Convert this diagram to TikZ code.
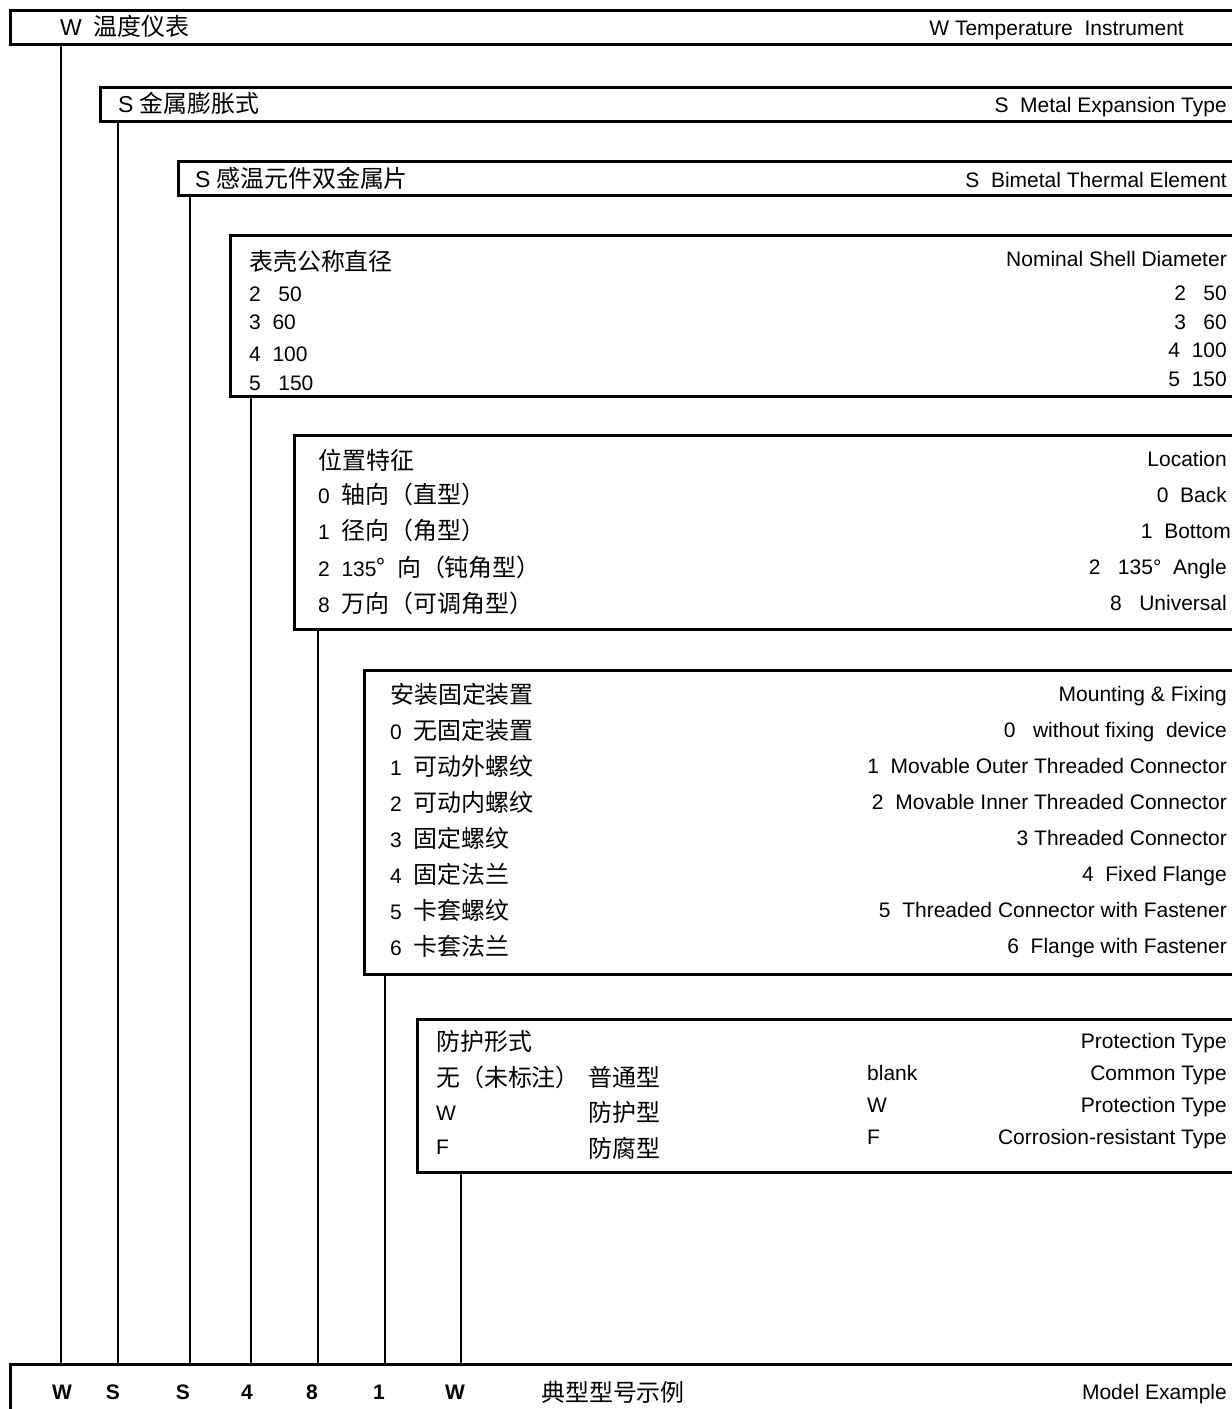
\documentclass[tikz,border=0pt]{standalone}
\usepackage{fontspec}
\setmainfont{Liberation Sans}
\newfontfamily\cjk{Noto Sans CJK SC}[Scale=1.14]
\newcommand{\hdrlat}[1]{{\fontsize{23}{27}\selectfont #1}}
\begin{document}
\begin{tikzpicture}[x=1pt,y=-1pt,
  box/.style={line width=3pt},
  lead/.style={line width=1.2pt},
  every node/.style={inner sep=0pt, font=\fontsize{21}{25}\selectfont},
  lt/.style={anchor=base west, yshift=-8pt},
  rt/.style={anchor=base east, yshift=-8pt},
  code/.style={anchor=base, yshift=-8pt, font=\fontsize{21}{25}\selectfont\bfseries}]
\useasboundingbox (0,0) rectangle (1232,1409);
\clip (0,0) rectangle (1232,1409);
% boxes (open to the right, cut by the page edge)
\draw[box] (1245,10) -- (10,10) -- (10,44) -- (1245,44);
\draw[box] (1245,87) -- (100,87) -- (100,121) -- (1245,121);
\draw[box] (1245,161) -- (178,161) -- (178,195) -- (1245,195);
\draw[box] (1245,235) -- (230,235) -- (230,396) -- (1245,396);
\draw[box] (1245,435) -- (294,435) -- (294,629) -- (1245,629);
\draw[box] (1245,670) -- (364,670) -- (364,974) -- (1245,974);
\draw[box] (1245,1019) -- (417,1019) -- (417,1172) -- (1245,1172);
\draw[box] (1245,1364) -- (10,1364) -- (10,1420);
% box 1
\node[lt] (t1) at (60,27) {\hdrlat{W}\ \ \cjk 温度仪表};
\node[rt] (e1) at (1184,27) {W Temperature\ \ Instrument};
% box 2
\node[lt] (t2) at (118,104) {\hdrlat{S} \cjk 金属膨胀式};
\node[rt] (e2) at (1227,104) {S\ \ Metal Expansion Type};
% box 3
\node[lt] (t3) at (195,179) {\hdrlat{S} \cjk 感温元件双金属片};
\node[rt] (e3) at (1227,179) {S\ \ Bimetal Thermal Element};
% box 4
\node[lt] (t4) at (249,262) {\cjk 表壳公称直径};
\node[lt] (t4a) at (249,293) {2\ \ \ 50};
\node[lt] (t4b) at (249,321) {3\ \ 60};
\node[lt] (t4c) at (249,353) {4\ \ 100};
\node[lt] (t4d) at (249,382) {5\ \ \ 150};
\node[rt] (e4) at (1227,258) {Nominal Shell Diameter};
\node[rt] (e4a) at (1227,292) {2\ \ \ 50};
\node[rt] (e4b) at (1227,321) {3\ \ \ 60};
\node[rt] (e4c) at (1227,349) {4\ \ 100};
\node[rt] (e4d) at (1227,378) {5\ \ 150};
% box 5
\node[lt] (t5) at (318,461) {\cjk 位置特征};
\node[lt] (t5a) at (318,495) {0\ \ \cjk 轴向（直型）};
\node[lt] (t5b) at (318,531) {1\ \ \cjk 径向（角型）};
\node[lt] (t5c) at (318,568) {2\ \ 135{\cjk °}\ \ \cjk 向（钝角型）};
\node[lt] (t5d) at (318,604) {8\ \ \cjk 万向（可调角型）};
\node[rt] (e5) at (1227,458) {Location};
\node[rt] (e5a) at (1227,494) {0\ \ Back};
\node[rt] (e5b) at (1231,530) {1\ \ Bottom};
\node[rt] (e5c) at (1227,566) {2\ \ \ 135°\ \ Angle};
\node[rt] (e5d) at (1227,602) {8\ \ \ Universal};
% box 6
\node[lt] (t6) at (390,695) {\cjk 安装固定装置};
\node[lt] (t6a) at (390,731) {0\ \ \cjk 无固定装置};
\node[lt] (t6b) at (390,767) {1\ \ \cjk 可动外螺纹};
\node[lt] (t6c) at (390,803) {2\ \ \cjk 可动内螺纹};
\node[lt] (t6d) at (390,839) {3\ \ \cjk 固定螺纹};
\node[lt] (t6e) at (390,875) {4\ \ \cjk 固定法兰};
\node[lt] (t6f) at (390,911) {5\ \ \cjk 卡套螺纹};
\node[lt] (t6g) at (390,947) {6\ \ \cjk 卡套法兰};
\node[rt] (e6) at (1227,693) {Mounting \& Fixing};
\node[rt] (e6a) at (1227,729) {0\ \ \ without fixing\ \ device};
\node[rt] (e6b) at (1227,765) {1\ \ Movable Outer Threaded Connector};
\node[rt] (e6c) at (1227,801) {2\ \ Movable Inner Threaded Connector};
\node[rt] (e6d) at (1227,837) {3 Threaded Connector};
\node[rt] (e6e) at (1227,873) {4\ \ Fixed Flange};
\node[rt] (e6f) at (1227,909) {5\ \ Threaded Connector with Fastener};
\node[rt] (e6g) at (1227,945) {6\ \ Flange with Fastener};
% box 7
\node[lt] (t7) at (436,1042) {\cjk 防护形式};
\node[lt] (t7a) at (436,1078) {\cjk 无（未标注）};
\node[lt] (t7b) at (436,1112) {W};
\node[lt] (t7c) at (436,1146) {F};
\node[lt] (t7d) at (588,1078) {\cjk 普通型};
\node[lt] (t7e) at (588,1113) {\cjk 防护型};
\node[lt] (t7f) at (588,1149) {\cjk 防腐型};
\node[lt] (b7a) at (867,1072) {blank};
\node[lt] (b7b) at (867,1104) {W};
\node[lt] (b7c) at (867,1136) {F};
\node[rt] (e7) at (1227,1040) {Protection Type};
\node[rt] (e7a) at (1227,1072) {Common Type};
\node[rt] (e7b) at (1227,1104) {Protection Type};
\node[rt] (e7c) at (1227,1136) {Corrosion-resistant Type};
% bottom example row
\node[code] (c1) at (62,1391) {W};
\node[code] (c2) at (113,1391) {S};
\node[code] (c3) at (183,1391) {S};
\node[code] (c4) at (247,1391) {4};
\node[code] (c5) at (312,1391) {8};
\node[code] (c6) at (379,1391) {1};
\node[code] (c7) at (455,1391) {W};
\node[lt] (ex) at (541,1393) {\cjk 典型型号示例};
\node[rt] (ee) at (1227,1391) {Model Example};
% lead lines
\coordinate (a1) at (61,44);   \coordinate (z1) at (61,1364);
\coordinate (a2) at (118,121); \coordinate (z2) at (118,1364);
\coordinate (a3) at (190,195); \coordinate (z3) at (190,1364);
\coordinate (a4) at (251,396); \coordinate (z4) at (251,1364);
\coordinate (a5) at (318,629); \coordinate (z5) at (318,1364);
\coordinate (a6) at (385,974); \coordinate (z6) at (385,1364);
\coordinate (a7) at (461,1172);\coordinate (z7) at (461,1364);
\foreach \i in {1,...,7} \draw[lead] (a\i) -- (z\i);
\end{tikzpicture}
\end{document}
